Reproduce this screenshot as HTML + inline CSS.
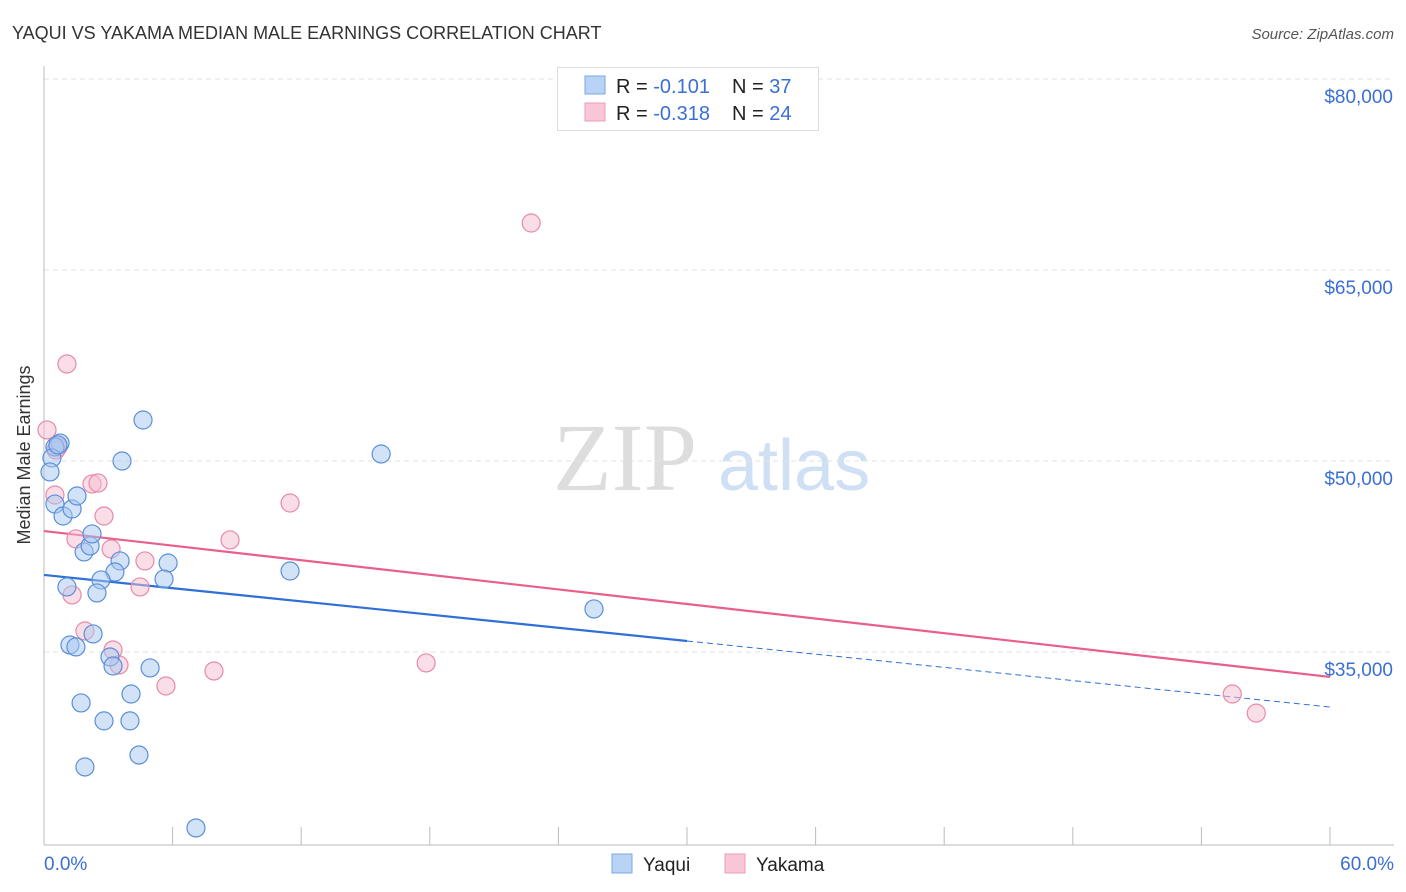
<!DOCTYPE html>
<html><head><meta charset="utf-8"><style>
body{margin:0;background:#fff;font-family:"Liberation Sans",sans-serif;}
svg{display:block}
</style></head><body>
<svg id="chart" width="1406" height="892">
<text x="12" y="39" font-size="18" fill="#333">YAQUI VS YAKAMA MEDIAN MALE EARNINGS CORRELATION CHART</text>
<text x="1394" y="39" font-size="15" fill="#555" font-style="italic" text-anchor="end">Source: ZipAtlas.com</text>
<text x="30" y="455" font-size="18" fill="#333" transform="rotate(-90 30 455)" text-anchor="middle">Median Male Earnings</text>
<g><text x="553" y="490" font-family="Liberation Serif,serif" font-size="96" fill="#ddd">ZIP</text><text x="718" y="490" font-size="72" fill="#d0e0f4">atlas</text></g>
<g id="grid"></g><g id="axes"></g><g id="lines"></g><g id="pts"></g>
<g>
<rect x="557.5" y="67.5" width="261" height="63" fill="#fff" stroke="#ddd"/>
<rect x="585" y="76" width="20" height="18" fill="#b9d3f5" stroke="#7aa7e6"/>
<rect x="585" y="103" width="20" height="18" fill="#f8c6d6" stroke="#ee9cb6"/>
<text x="616" y="93" font-size="20" fill="#222">R = <tspan fill="#3b6fd4">-0.101</tspan><tspan x="732">N = </tspan><tspan fill="#3b6fd4">37</tspan></text>
<text x="616" y="120" font-size="20" fill="#222">R = <tspan fill="#3b6fd4">-0.318</tspan><tspan x="732">N = </tspan><tspan fill="#3b6fd4">24</tspan></text>
</g>
<g>
<rect x="612" y="854" width="20" height="19" fill="#b9d3f5" stroke="#7aa7e6"/>
<text x="643" y="871" font-size="19" fill="#222">Yaqui</text>
<rect x="725" y="854" width="20" height="19" fill="#f8c6d6" stroke="#ee9cb6"/>
<text x="756" y="871" font-size="19" fill="#222">Yakama</text>
</g>
</svg>
<script>
const yTicks=[80000,65000,50000,35000];
const yTickLabels=["$80,000","$65,000","$50,000","$35,000"];
const xTickLabels=["0.0%","60.0%"];
const yaquiX=[4.62,3.64,15.73,0.75,0.51,0.37,0.28,0.51,0.89,1.31,1.54,1.87,2.15,2.24,3.55,3.31,2.66,2.47,1.07,5.79,5.60,11.48,25.66,2.29,1.21,1.49,3.08,3.22,4.95,4.06,1.73,2.80,4.01,4.43,1.91,7.09,0.65];
const yaquiY=[53220,50000,50550,51410,51100,50240,49140,46620,45680,46230,47250,42860,43330,44270,42150,41280,40660,39640,40110,41990,40730,41360,38380,36420,35550,35400,34610,33900,33750,31700,31000,29590,29590,26910,25970,21180,51260];
const yakamaX=[22.73,1.07,0.14,0.65,2.24,2.52,0.51,2.80,11.48,8.68,1.49,3.13,4.71,4.48,1.31,1.91,3.22,3.50,5.69,7.93,17.83,55.44,56.56,0.56];
const yakamaY=[68690,57620,52440,51100,48200,48270,47330,45680,46700,43800,43880,43090,42150,40110,39480,36650,35160,33980,32330,33510,34140,31700,30200,50870];
const yaquiTrend=[41050,30680];
const yakamaTrend=[44500,33040];
const NS="http://www.w3.org/2000/svg";
const X=v=>44+v*(1286/60);
const Y=v=>79+(80000-v)*(191/15000);
function mk(t,a,p){const e=document.createElementNS(NS,t);for(const k in a)e.setAttribute(k,a[k]);document.getElementById(p).appendChild(e);return e;}
yTicks.forEach((t,i)=>{
 const g=mk('line',{x1:44,x2:1394,y1:Y(t),y2:Y(t),stroke:'#e2e2e2','stroke-dasharray':'5,4'},'grid');
 
 
 const l=mk('text',{x:1393,y:Y(t)+24,'font-size':19,fill:'#3b6fd4','text-anchor':'end'},'grid');
 l.textContent=yTickLabels[i];
 
 
});
const ax=mk('line',{x1:44,x2:44,y1:66,y2:845,stroke:'#bbb'},'axes');


const bx=mk('line',{x1:44,x2:1394,y1:845,y2:845,stroke:'#bbb'},'axes');


for(let i=0;i<=10;i++){
 const t=mk('line',{x1:X(i*6),x2:X(i*6),y1:827,y2:845,stroke:'#bbb'},'axes');
 
 
}
[[0,'start',44],[60,'end',1394]].forEach((d,i)=>{
 const t=mk('text',{x:d[2],y:870,'font-size':19,fill:'#3b6fd4','text-anchor':d[1]},'axes');
 t.textContent=xTickLabels[i];
 
 
});
function pts(xs,ys,fill,stroke,name){xs.forEach((x,i)=>{
 const c=mk('circle',{cx:X(x),cy:Y(ys[i]),r:9,fill:fill,'fill-opacity':0.5,stroke:stroke,'stroke-width':1.2},'pts');
 
 
});}
pts(yakamaX,yakamaY,'#f6bdd0','#e88aa8','yakama-point');
pts(yaquiX,yaquiY,'#a8c8f0','#5b8fd9','yaqui-point');
const ym=yaquiTrend[0]+(yaquiTrend[1]-yaquiTrend[0])*0.5;
const l1=mk('line',{x1:X(0),y1:Y(yaquiTrend[0]),x2:X(30),y2:Y(ym),stroke:'#2f6fd6','stroke-width':2.2},'lines');


const l2=mk('line',{x1:X(30),y1:Y(ym),x2:X(60),y2:Y(yaquiTrend[1]),stroke:'#2f6fd6','stroke-width':1,'stroke-dasharray':'6,4'},'lines');


const l3=mk('line',{x1:X(0),y1:Y(yakamaTrend[0]),x2:X(60),y2:Y(yakamaTrend[1]),stroke:'#e8608a','stroke-width':2.2},'lines');


</script>
</body></html>
